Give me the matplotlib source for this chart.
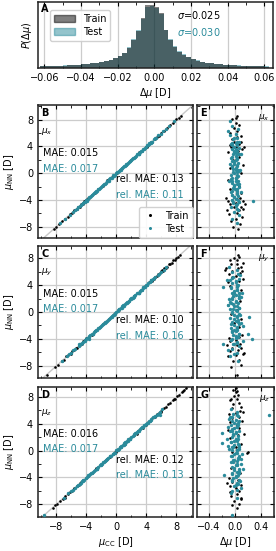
import matplotlib
matplotlib.use('Agg')
import matplotlib.pyplot as plt
import numpy as np
from matplotlib.ticker import MultipleLocator, NullFormatter
from matplotlib.patches import Patch
from matplotlib.lines import Line2D

plt.rcParams['font.family'] = ['DejaVu Sans']
plt.rcParams['font.size'] = 7

teal = '#2a8b9b'

# --- histogram (panel A), relative heights, bins of 0.0025 from -0.0625 to 0.0625
hist_edges = np.linspace(-0.0625, 0.0625, 51)
hist_train = [0.025, 0.027, 0.029, 0.031, 0.034, 0.037, 0.041, 0.045, 0.050, 0.056,
              0.063, 0.072, 0.083, 0.097, 0.112, 0.13, 0.155, 0.19, 0.24, 0.32,
              0.44, 0.58, 0.79, 1.00, 1.00,
              0.97, 0.87, 0.60, 0.44, 0.34, 0.26, 0.21, 0.17, 0.14, 0.115,
              0.097, 0.083, 0.072, 0.063, 0.056, 0.050, 0.045, 0.041, 0.037, 0.034,
              0.031, 0.029, 0.027, 0.025, 0.023]
hist_test = [0.028, 0.030, 0.032, 0.034, 0.037, 0.040, 0.044, 0.048, 0.053, 0.059,
             0.066, 0.075, 0.086, 0.10, 0.115, 0.133, 0.158, 0.195, 0.245, 0.33,
             0.46, 0.60, 0.78, 0.97, 0.98,
             0.95, 0.86, 0.61, 0.46, 0.35, 0.27, 0.215, 0.175, 0.145, 0.12,
             0.10, 0.086, 0.075, 0.066, 0.059, 0.053, 0.048, 0.044, 0.040, 0.037,
             0.034, 0.031, 0.029, 0.027, 0.025]
sigma_train = 0.025
sigma_test = 0.030

# --- mu_x
train_x_cc = [-8.3, -8.1, -7.6, -7.2, -6.9, -6.5, -6.2, -5.9, -5.7, -5.5,
              -5.3, -5.1, -4.9, -4.7, -4.5, -4.4, -4.3, -4.2, -4.1, -4.0,
              -3.9, -3.8, -3.6, -3.3, -2.9, -2.4, -1.8, -1.2, -0.6, 0.1,
              0.7, 1.3, 1.9, 2.5, 3.0, 3.4, 3.7, 3.9, 4.0, 4.1,
              4.2, 4.4, 4.6, 4.8, 5.1, 5.4, 5.7, 6.0, 6.4, 6.8,
              7.2, 7.6, 8.0, 8.3, 8.6]
train_x_d = [0.05, -0.03, 0.08, -0.06, 0.02, 0.11, -0.09, 0.04, -0.12, 0.07,
             0.13, -0.02, 0.09, -0.07, 0.15, 0.01, -0.10, 0.06, 0.12, -0.04,
             0.03, -0.13, 0.08, -0.05, 0.10, -0.08, 0.06, -0.11, 0.04, 0.09,
             -0.07, 0.12, -0.03, 0.07, -0.10, 0.05, 0.11, -0.06, 0.02, 0.14,
             -0.08, 0.06, -0.02, 0.09, -0.05, 0.03, 0.10, -0.07, 0.04, -0.01,
             0.06, 0.02, -0.04, 0.01, 0.03]
test_x_cc = [-7.5, -6.9, -6.2, -5.8, -5.5, -5.1, -4.9, -4.6, -4.45, -4.2,
             -4.05, -3.8, -3.65, -3.4, -3.25, -3.0, -2.85, -2.6, -2.4, -2.25,
             -2.0, -1.85, -1.6, -1.45, -1.2, -1.05, -0.8, -0.65, -0.4, -0.2,
             -0.05, 0.2, 0.35, 0.6, 0.75, 1.0, 1.15, 1.4, 1.6, 1.75,
             2.0, 2.2, 2.35, 2.6, 2.8, 2.95, 3.2, 3.4, 3.55, 3.8,
             3.95, 4.2, 4.4, 4.55, 4.8, 5.05, 5.3, 5.6, 5.95, 6.2,
             6.6, 7.0, 7.7, -3.9, -1.3, 0.5, 1.3, 3.0, 4.3, -2.7,
             -4.75, -4.3, -3.95, -3.55, -3.1, -2.7, -2.3, -1.95, -1.5, -1.15,
             -0.7, -0.3, 0.1, 0.45, 0.9, 1.25, 1.7, 2.1, 2.45, 2.9,
             3.3, 3.7, 4.1, 4.65, 5.2, -5.3, -0.95, 0.55, 1.85, 3.05]
test_x_d = [0.03, -0.04, 0.06, -0.02, 0.05, -0.06, 0.01, 0.04, -0.03, 0.07,
            -0.05, 0.02, -0.01, 0.05, -0.04, 0.03, -0.06, 0.04, 0.00, -0.03,
            0.06, -0.02, 0.03, -0.05, 0.02, 0.05, -0.04, 0.01, -0.06, 0.04,
            -0.02, 0.03, 0.06, -0.03, 0.02, -0.05, 0.04, -0.01, 0.05, -0.04,
            0.02, -0.06, 0.03, 0.01, -0.03, 0.05, -0.02, 0.04, -0.05, 0.06,
            -0.01, 0.03, -0.04, 0.02, 0.07, -0.03, 0.04, -0.07, 0.02, -0.10,
            0.05, -0.04, -0.08, 0.28, -0.09, 0.08, -0.07, 0.09, -0.06, 0.10,
            0.02, -0.03, 0.05, -0.01, 0.04, -0.05, 0.03, -0.02, 0.06, -0.04,
            0.01, 0.05, -0.03, 0.02, -0.05, 0.04, -0.02, 0.03, -0.04, 0.06,
            -0.01, 0.02, -0.05, 0.03, -0.02, 0.04, -0.06, 0.05, -0.03, 0.01]

# --- mu_y
train_y_cc = [-9.3, -8.2, -7.8, -7.3, -7.0, -6.7, -6.4, -6.1, -5.9, -5.6,
              -5.4, -5.2, -5.0, -4.8, -4.6, -4.4, -4.2, -4.0, -3.7, -3.3,
              -2.8, -2.2, -1.6, -1.0, -0.3, 0.4, 1.0, 1.7, 2.3, 2.9,
              3.4, 3.8, 4.1, 4.4, 4.7, 5.0, 5.2, 5.4, 5.6, 5.8,
              6.0, 6.2, 6.4, 6.6, 6.8, 7.0, 7.2, 7.4, 7.6, 7.8,
              8.0, 8.2, 8.5, 6.1, -6.0]
train_y_d = [0.04, -0.06, 0.09, -0.03, 0.07, -0.10, 0.02, 0.12, -0.08, 0.05,
             -0.04, 0.10, -0.12, 0.03, 0.08, -0.07, 0.01, -0.09, 0.06, 0.11,
             -0.05, 0.07, -0.02, 0.09, -0.06, 0.04, -0.11, 0.08, -0.03, 0.06,
             0.10, -0.07, 0.03, -0.10, 0.07, 0.13, -0.05, 0.02, -0.09, 0.08,
             -0.04, 0.11, -0.13, 0.05, 0.09, -0.06, 0.03, 0.12, -0.08, 0.04,
             -0.02, 0.07, 0.05, -0.15, 0.14]
test_y_cc = [-7.2, -6.6, -6.0, -5.5, -5.0, -4.7, -4.4, -4.15, -3.9, -3.7,
             -3.5, -3.25, -3.05, -2.8, -2.6, -2.4, -2.2, -1.95, -1.75, -1.55,
             -1.3, -1.1, -0.9, -0.7, -0.45, -0.25, -0.05, 0.15, 0.4, 0.6,
             0.8, 1.0, 1.25, 1.45, 1.65, 1.85, 2.1, 2.3, 2.5, 2.7,
             2.95, 3.15, 3.35, 3.55, 3.8, 4.0, 4.2, 4.45, 4.65, 4.9,
             5.2, 5.5, 5.9, 6.3, 6.6, -5.0, -3.1, -0.6, -3.7, 3.5,
             -2.0, 0.9, 2.4, 4.6, -4.2, 1.9, -1.5, 3.0, -5.8, 0.3,
             -4.85, -4.55, -4.0, -3.6, -3.15, -2.7, -2.3, -1.85, -1.4, -1.0,
             -0.55, -0.15, 0.25, 0.7, 1.1, 1.55, 2.0, 2.4, 2.85, 3.25,
             3.7, 4.1, 4.55, 5.05, 5.7, -6.3, -0.35, 1.35, 2.2, -2.9]
test_y_d = [0.05, -0.07, 0.03, -0.04, 0.06, -0.02, 0.04, -0.06, 0.02, 0.05,
            -0.03, 0.07, -0.05, 0.01, 0.04, -0.06, 0.03, -0.02, 0.06, -0.04,
            0.02, 0.05, -0.07, 0.03, -0.01, 0.06, -0.05, 0.04, -0.03, 0.07,
            -0.02, 0.04, -0.06, 0.05, 0.01, -0.04, 0.06, -0.03, 0.02, -0.05,
            0.07, -0.02, 0.04, -0.06, 0.03, 0.05, -0.04, 0.02, -0.07, 0.06,
            -0.03, 0.08, -0.05, 0.04, -0.09, -0.18, 0.20, 0.21, 0.27, -0.18,
            0.12, -0.11, 0.10, -0.12, 0.13, -0.09, 0.09, 0.11, -0.10, -0.08,
            -0.03, 0.04, -0.05, 0.02, 0.06, -0.01, 0.03, -0.06, 0.05, -0.02,
            0.04, -0.04, 0.01, 0.06, -0.03, 0.02, -0.05, 0.07, -0.02, 0.04,
            -0.06, 0.03, 0.01, -0.04, 0.05, -0.02, 0.08, -0.07, 0.06, -0.05]

# --- mu_z
train_z_cc = [-8.5, -8.2, -7.9, -7.5, -7.1, -6.8, -6.5, -6.2, -5.9, -5.6,
              -5.3, -5.0, -4.7, -4.4, -4.1, -3.8, -3.3, -2.7, -2.1, -1.5,
              -0.9, -0.2, 0.5, 1.1, 1.8, 2.4, 3.0, 3.5, 3.9, 4.2,
              4.5, 4.8, 5.1, 5.4, 5.7, 6.0, 6.3, 6.6, 6.9, 7.2,
              7.5, 7.8, 8.1, 8.4, 8.7, 9.0, 9.3, 0.0, -0.2, 2.7,
              -4.9, 5.9, -6.9, 7.7, 8.9]
train_z_d = [0.03, -0.05, 0.07, -0.02, 0.09, -0.06, 0.04, -0.08, 0.06, 0.02,
             -0.07, 0.10, -0.04, 0.05, -0.09, 0.03, 0.08, -0.06, 0.04, -0.03,
             0.07, -0.05, 0.02, 0.09, -0.07, 0.05, -0.10, 0.06, 0.03, -0.08,
             0.11, -0.04, 0.07, -0.09, 0.02, 0.08, -0.05, 0.10, -0.03, 0.06,
             -0.07, 0.04, -0.02, 0.05, 0.01, -0.03, 0.02, 0.20, 0.18, 0.14,
             -0.12, 0.12, 0.09, -0.06, 0.04]
test_z_cc = [-9.6, -7.0, -6.4, -5.8, -5.3, -4.9, -4.6, -4.3, -4.05, -3.8,
             -3.6, -3.35, -3.1, -2.9, -2.65, -2.45, -2.2, -2.0, -1.8, -1.55,
             -1.35, -1.1, -0.9, -0.7, -0.45, -0.25, 0.0, 0.2, 0.45, 0.65,
             0.85, 1.1, 1.3, 1.5, 1.75, 1.95, 2.2, 2.4, 2.6, 2.85,
             3.05, 3.3, 3.5, 3.7, 3.95, 4.2, 4.4, 4.65, 4.9, 5.2,
             5.5, 5.8, 6.1, 5.8, 2.5, 1.0, -3.8, -1.2, 0.6, -5.5,
             3.4, -2.6, 4.6, -0.4, 1.6, -4.4, 2.9, -1.9, 0.2, -3.2,
             -4.75, -4.45, -3.95, -3.5, -3.0, -2.55, -2.1, -1.7, -1.25, -0.8,
             -0.35, 0.1, 0.55, 0.95, 1.4, 1.85, 2.3, 2.75, 3.2, 3.6,
             4.05, 4.5, 5.0, 5.35, -6.0, -5.1, 0.3, 1.2, 3.85, -1.45]
test_z_d = [-0.05, 0.04, -0.06, 0.03, -0.02, 0.05, -0.04, 0.06, -0.03, 0.02,
            0.05, -0.05, 0.03, -0.02, 0.06, -0.04, 0.01, 0.04, -0.06, 0.03,
            -0.02, 0.05, -0.04, 0.06, -0.01, 0.03, -0.05, 0.04, -0.03, 0.06,
            -0.02, 0.05, -0.06, 0.03, 0.01, -0.04, 0.05, -0.03, 0.02, -0.05,
            0.06, -0.02, 0.04, -0.06, 0.03, 0.05, -0.04, 0.02, -0.07, 0.05,
            -0.03, 0.04, -0.06, 0.52, -0.19, -0.19, -0.17, 0.10, -0.11, 0.09,
            -0.10, 0.12, -0.09, 0.11, -0.12, 0.08, -0.08, 0.10, -0.09, 0.07,
            0.03, -0.04, 0.02, -0.05, 0.06, -0.02, 0.04, -0.03, 0.05, -0.06,
            0.01, 0.03, -0.04, 0.06, -0.02, 0.05, -0.03, 0.02, -0.05, 0.04,
            -0.01, 0.06, -0.04, 0.03, -0.05, 0.02, 0.07, -0.06, 0.05, -0.03]

comp_names = [r'$\mu_x$', r'$\mu_y$', r'$\mu_z$']
mae_train = ['0.015', '0.015', '0.016']
mae_test = ['0.017', '0.017', '0.017']
rel_train = ['0.13', '0.10', '0.12']
rel_test = ['0.11', '0.16', '0.13']
letters_left = ['B', 'C', 'D']
letters_right = ['E', 'F', 'G']

data = [(train_x_cc, train_x_d, test_x_cc, test_x_d),
        (train_y_cc, train_y_d, test_y_cc, test_y_d),
        (train_z_cc, train_z_d, test_z_cc, test_z_d)]

W, H = 276, 551


def rect(l, t, r, b):
    return [l / W, 1 - b / H, (r - l) / W, (b - t) / H]


def style(ax):
    ax.tick_params(which='both', direction='in', top=True, right=True, labelsize=7)
    ax.tick_params(which='major', length=3, width=0.8)
    ax.tick_params(which='minor', length=1.8, width=0.6)
    for s in ax.spines.values():
        s.set_linewidth(1.1)
        s.set_color('#222222')


fig = plt.figure(figsize=(W / 100, H / 100), dpi=100)

# ---- panel A
axA = fig.add_axes(rect(38, 2, 273, 68))
centers = 0.5 * (hist_edges[1:] + hist_edges[:-1])
axA.hist(centers, bins=hist_edges, weights=hist_test, color=teal, alpha=0.5)
axA.hist(centers, bins=hist_edges, weights=hist_train, color='k', alpha=0.5)
axA.set_xlim(-0.0635, 0.0647)
axA.set_ylim(0, 1.047)
axA.xaxis.set_major_locator(MultipleLocator(0.02))
axA.xaxis.set_minor_locator(MultipleLocator(0.01))
axA.set_yticks([])
axA.grid(axis='x', color='#cccccc', lw=0.9)
axA.set_axisbelow(True)
style(axA)
axA.tick_params(right=False, left=False)
axA.set_xlabel(r'$\Delta\mu$ [D]', labelpad=2)
axA.set_ylabel(r'$P(\Delta\mu)$', labelpad=3)
axA.text(0.012, 0.97, 'A', transform=axA.transAxes, fontweight='bold', va='top', ha='left')
axA.text(0.59, 0.80, r'$\sigma$=%.3f' % sigma_train, transform=axA.transAxes, va='center')
axA.text(0.59, 0.54, r'$\sigma$=%.3f' % sigma_test, transform=axA.transAxes, va='center', color=teal)
hA = [Patch(color='k', alpha=0.5), Patch(color=teal, alpha=0.5)]
axA.legend(hA, ['Train', 'Test'], loc='upper left', bbox_to_anchor=(0.05, 0.88),
           fontsize=7, handlelength=2.2, borderaxespad=0, framealpha=0.9,
           labelspacing=0.3)

rows = [(105, 238, (-9.7, 10.2)), (246, 378, (-9.8, 9.8)), (387, 517, (-9.9, 9.5))]

for i, (t, b, ylim) in enumerate(rows):
    tr_cc, tr_d, te_cc, te_d = [np.array(v) for v in data[i]]
    tr_nn = tr_cc - tr_d
    te_nn = te_cc - te_d

    ax = fig.add_axes(rect(38, t, 193, b))
    axE = fig.add_axes(rect(197, t, 274, b))

    ax.axline((0, 0), slope=1, color='#c8c8c8', lw=1.0, zorder=1)
    ax.scatter(tr_cc, tr_nn, s=3.5, color='k', lw=0, zorder=3, label='Train')
    ax.scatter(te_cc, te_nn, s=6, color=teal, lw=0, zorder=4, label='Test')
    ax.set_xlim(-10.45, 10.2)
    ax.set_ylim(*ylim)
    for a in (ax, axE):
        a.yaxis.set_major_locator(MultipleLocator(4))
        a.yaxis.set_minor_locator(MultipleLocator(2))
        a.grid(which='major', color='#cccccc', lw=0.9)
        a.set_axisbelow(True)
        style(a)
    ax.xaxis.set_major_locator(MultipleLocator(4))
    ax.xaxis.set_minor_locator(MultipleLocator(2))
    ax.set_ylabel(r'$\mu_{\rm NN}$ [D]', labelpad=2)
    if i < 2:
        ax.xaxis.set_major_formatter(NullFormatter())
    else:
        ax.set_xlabel(r'$\mu_{\rm CC}$ [D]', labelpad=2)

    ax.text(0.02, 0.975, letters_left[i], transform=ax.transAxes, fontweight='bold',
            va='top', ha='left')
    ax.text(0.02, 0.80, comp_names[i], transform=ax.transAxes, va='center', ha='left',
            fontsize=6.5)
    ax.text(0.03, 0.64, 'MAE: ' + mae_train[i], transform=ax.transAxes, va='center')
    ax.text(0.03, 0.52, 'MAE: ' + mae_test[i], transform=ax.transAxes, va='center',
            color=teal)
    ax.text(0.94, 0.44, 'rel. MAE: ' + rel_train[i], transform=ax.transAxes,
            va='center', ha='right')
    ax.text(0.94, 0.32, 'rel. MAE: ' + rel_test[i], transform=ax.transAxes,
            va='center', ha='right', color=teal)
    if i == 0:
        hB = [Line2D([], [], ls='', marker='o', ms=2.2, color='k', mew=0),
              Line2D([], [], ls='', marker='o', ms=2.2, color=teal, mew=0)]
        ax.legend(hB, ['Train', 'Test'], loc='lower right', fontsize=7,
                  borderaxespad=0.05, handlelength=1.5, framealpha=0.9,
                  labelspacing=0.3)

    axE.scatter(tr_d, tr_nn, s=3.5, color='k', lw=0, zorder=3)
    axE.scatter(te_d, te_nn, s=6, color=teal, lw=0, zorder=4)
    axE.set_xlim(-0.58, 0.6)
    axE.set_ylim(*ylim)
    axE.xaxis.set_major_locator(MultipleLocator(0.4))
    axE.xaxis.set_minor_locator(MultipleLocator(0.2))
    axE.yaxis.set_major_formatter(NullFormatter())
    if i < 2:
        axE.xaxis.set_major_formatter(NullFormatter())
    else:
        axE.set_xticks([-0.4, 0.0, 0.4])
        axE.set_xticklabels(['\u22120.4', '0.0', '0.4'])
        axE.set_xlabel(r'$\Delta\mu$ [D]', labelpad=2)
    axE.text(0.04, 0.975, letters_right[i], transform=axE.transAxes, fontweight='bold',
             va='top', ha='left')
    axE.text(0.95, 0.95, comp_names[i], transform=axE.transAxes, va='top', ha='right',
             fontsize=6.5)

fig.savefig('out.png', dpi=100)
